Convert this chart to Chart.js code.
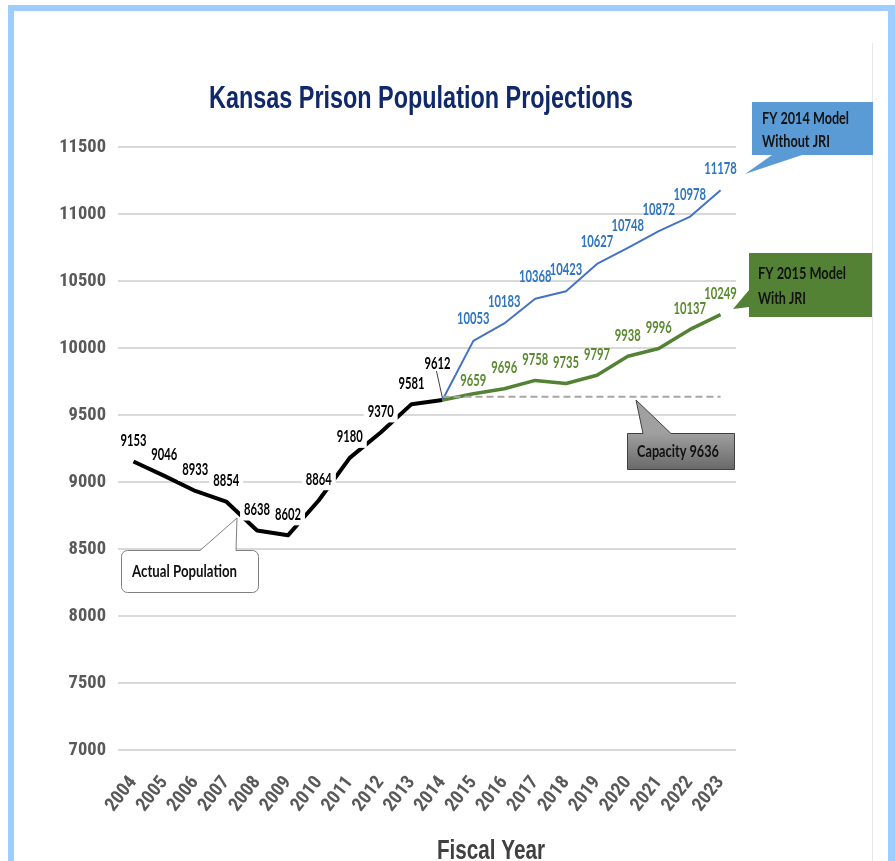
<!DOCTYPE html>
<html><head><meta charset="utf-8">
<script src="https://cdn.jsdelivr.net/npm/chart.js@4.4.1/dist/chart.umd.min.js"></script>
<style>html,body{margin:0;padding:0;background:#fff;overflow:hidden}canvas{display:block}</style>
</head><body>
<canvas id="c" width="895" height="861"></canvas>
<script>
// ---- data ----
const years = ['2004','2005','2006','2007','2008','2009','2010','2011','2012','2013',
               '2014','2015','2016','2017','2018','2019','2020','2021','2022','2023'];
const actualPopulation = [9153, 9046, 8933, 8854, 8638, 8602, 8864, 9180, 9370, 9581,
                          9612, null, null, null, null, null, null, null, null, null];
const fy2014WithoutJRI = [null, null, null, null, null, null, null, null, null, null,
                          9612, 10053, 10183, 10368, 10423, 10627, 10748, 10872, 10978, 11178];
const fy2015WithJRI    = [null, null, null, null, null, null, null, null, null, null,
                          9612, 9659, 9696, 9758, 9735, 9797, 9938, 9996, 10137, 10249];
const capacity         = [null, null, null, null, null, null, null, null, null, null,
                          9636, 9636, 9636, 9636, 9636, 9636, 9636, 9636, 9636, 9636];
const yMin = 7000, yMax = 11500, yStep = 500;
const chartTitle = 'Kansas Prison Population Projections';
const xTitle = 'Fiscal Year';
const calloutWithout = ['FY 2014 Model', 'Without JRI'];
const calloutWith = ['FY 2015 Model', 'With JRI'];
const calloutCapacity = 'Capacity 9636';
const calloutActual = 'Actual Population';

const NARROW = "'Liberation Sans Narrow','Arial Narrow','Roboto Condensed',sans-serif";
const WIDE = "'Liberation Sans',Arial,sans-serif";
const CAL = "Lato,'Open Sans',sans-serif";

function fitText(ctx, text, x, y, width, font, color, baseline) {
  ctx.save();
  ctx.font = font;
  const w = ctx.measureText(text).width;
  ctx.translate(x, y);
  ctx.scale(width / w, 1);
  ctx.fillStyle = color; ctx.textAlign = 'left'; ctx.textBaseline = baseline || 'alphabetic';
  ctx.fillText(text, 0, 0);
  ctx.restore();
}

const labelFont = 'bold 17px ' + CAL;
const digitW = 6.5;

const decor = {
  id: 'decor',
  beforeDraw(chart) {
    const ctx = chart.ctx;
    ctx.save();
    ctx.fillStyle = '#fff';
    ctx.fillRect(0, 0, chart.width, chart.height);
    ctx.fillStyle = '#9FCDFF';
    ctx.fillRect(8, 5, 6, 856);
    ctx.fillRect(8, 5, 887, 6);
    ctx.fillRect(888, 5, 7, 856);
    ctx.strokeStyle = '#E8E8E8'; ctx.lineWidth = 1;
    ctx.beginPath(); ctx.moveTo(872.5, 43); ctx.lineTo(872.5, 861); ctx.stroke();
    ctx.restore();
  },
  afterDatasetsDraw(chart) {
    const ctx = chart.ctx;
    const specs = [
      {ds: 3, color: '#000000', from: 0, bg: true, dy: -22},
      {ds: 1, color: '#2E75C0', from: 11, bg: false, dy: -23},
      {ds: 2, color: '#5A8A2F', from: 11, bg: false, dy: -22}
    ];
    const items = [];
    specs.forEach(s => {
      const meta = chart.getDatasetMeta(s.ds);
      const data = chart.data.datasets[s.ds].data;
      meta.data.forEach((pt, j) => {
        if (j < s.from || data[j] == null) return;
        let dx = 0, dy = s.dy;
        if (s.ds === 3 && j === 10) { dx = -5; dy = -37; }
        if (s.ds === 2 && j === 11) { dy = -14; }
        const txt = String(data[j]);
        items.push({txt, cx: pt.x + dx, cy: pt.y + dy, w: digitW * txt.length,
                    color: s.color, bg: s.bg, leader: (s.ds === 3 && j === 10), pt});
      });
    });
    ctx.save();
    ctx.fillStyle = '#fff';
    items.forEach(it => { if (it.bg) ctx.fillRect(it.cx - it.w / 2 - 4, it.cy - 12, it.w + 8, 24); });
    ctx.restore();
    items.forEach(it => {
      fitText(ctx, it.txt, it.cx - it.w / 2, it.cy + 1, it.w, labelFont, it.color, 'middle');
      if (it.leader) {
        ctx.save();
        ctx.strokeStyle = '#404040'; ctx.lineWidth = 1;
        ctx.beginPath(); ctx.moveTo(it.cx - 1, it.cy + 8); ctx.lineTo(it.pt.x, it.pt.y - 2); ctx.stroke();
        ctx.restore();
      }
    });
  },
  afterDraw(chart) {
    const ctx = chart.ctx;
    fitText(ctx, chartTitle, 209, 108, 424, 'bold 31px ' + WIDE, '#10296A');
    fitText(ctx, xTitle, 437, 859, 108, 'bold 28px ' + WIDE, '#404040');
    ctx.save();
    // FY 2014 callout
    ctx.fillStyle = '#5B9BD5';
    ctx.beginPath();
    ctx.moveTo(752, 102); ctx.lineTo(873, 102); ctx.lineTo(873, 155); ctx.lineTo(802, 155);
    ctx.lineTo(745, 174); ctx.lineTo(772, 155); ctx.lineTo(752, 155); ctx.closePath(); ctx.fill();
    // FY 2015 callout
    ctx.fillStyle = '#548235';
    ctx.beginPath();
    ctx.moveTo(749, 253); ctx.lineTo(872, 253); ctx.lineTo(872, 317); ctx.lineTo(749, 317);
    ctx.lineTo(749, 307); ctx.lineTo(733, 309); ctx.lineTo(749, 290); ctx.closePath(); ctx.fill();
    // Capacity callout
    const g = ctx.createLinearGradient(0, 433, 0, 469);
    g.addColorStop(0, '#A0A0A0'); g.addColorStop(1, '#6A6A6A');
    ctx.fillStyle = g; ctx.strokeStyle = '#404040'; ctx.lineWidth = 1;
    ctx.beginPath();
    ctx.moveTo(627.5, 433.5); ctx.lineTo(643, 433.5); ctx.lineTo(636, 400); ctx.lineTo(671, 433.5);
    ctx.lineTo(734.5, 433.5); ctx.lineTo(734.5, 469.5); ctx.lineTo(627.5, 469.5); ctx.closePath();
    ctx.fill(); ctx.stroke();
    // Actual population callout
    const L = 121.5, T = 550.5, R = 258.5, B = 592.5, r = 6;
    ctx.fillStyle = '#fff'; ctx.strokeStyle = '#7F7F7F'; ctx.lineWidth = 1;
    ctx.beginPath();
    ctx.moveTo(L + r, T); ctx.lineTo(200, T); ctx.lineTo(237, 518); ctx.lineTo(236, T);
    ctx.lineTo(R - r, T); ctx.arcTo(R, T, R, T + r, r); ctx.lineTo(R, B - r);
    ctx.arcTo(R, B, R - r, B, r); ctx.lineTo(L + r, B); ctx.arcTo(L, B, L, B - r, r);
    ctx.lineTo(L, T + r); ctx.arcTo(L, T, L + r, T, r); ctx.closePath();
    ctx.fill(); ctx.stroke();
    ctx.restore();
    const cf = 'bold 17px ' + CAL;
    fitText(ctx, calloutWithout[0], 762, 124, 87, cf, '#111');
    fitText(ctx, calloutWithout[1], 762, 147, 68, cf, '#111');
    fitText(ctx, calloutWith[0], 758, 279, 88, cf, '#111');
    fitText(ctx, calloutWith[1], 758, 304, 48, cf, '#111');
    fitText(ctx, calloutCapacity, 637, 457, 82, cf, '#111');
    fitText(ctx, calloutActual, 132, 577, 105, cf, '#111');
  }
};

new Chart(document.getElementById('c'), {
  type: 'line',
  data: {
    labels: years,
    datasets: [
      {label: 'Capacity', data: capacity, borderColor: '#A6A6A6', borderWidth: 2,
       borderDash: [7, 4], pointRadius: 0, fill: false},
      {label: 'FY 2014 Model Without JRI', data: fy2014WithoutJRI, borderColor: '#4472C4',
       borderWidth: 2, pointRadius: 0, fill: false},
      {label: 'FY 2015 Model With JRI', data: fy2015WithJRI, borderColor: '#548235',
       borderWidth: 3.5, pointRadius: 0, fill: false},
      {label: 'Actual Population', data: actualPopulation, borderColor: '#000000',
       borderWidth: 4, pointRadius: 0, fill: false}
    ]
  },
  options: {
    responsive: false, animation: false, devicePixelRatio: 1,
    layout: {padding: {left: 0, right: 159, top: 147, bottom: 0}},
    plugins: {legend: {display: false}, title: {display: false}, tooltip: {enabled: false}},
    elements: {line: {tension: 0, borderCapStyle: 'butt', borderJoinStyle: 'round'}},
    scales: {
      y: {
        min: yMin, max: yMax,
        ticks: {stepSize: yStep, color: '#595959', padding: 12,
                callback: v => String(v),
                font: {family: NARROW, size: 18.5, weight: 'bold'}},
        grid: {color: '#D9D9D9', lineWidth: 2, drawTicks: false},
        border: {display: false},
        afterFit(s) { s.width = 118; }
      },
      x: {
        offset: true,
        ticks: {color: '#595959', padding: 22, minRotation: 52, maxRotation: 52, autoSkip: false,
                font: {family: NARROW, size: 19, weight: 'bold'}},
        grid: {display: false, drawTicks: false},
        border: {display: false},
        afterFit(s) { s.height = 111; }
      }
    }
  },
  plugins: [decor]
});
</script>
</body></html>
